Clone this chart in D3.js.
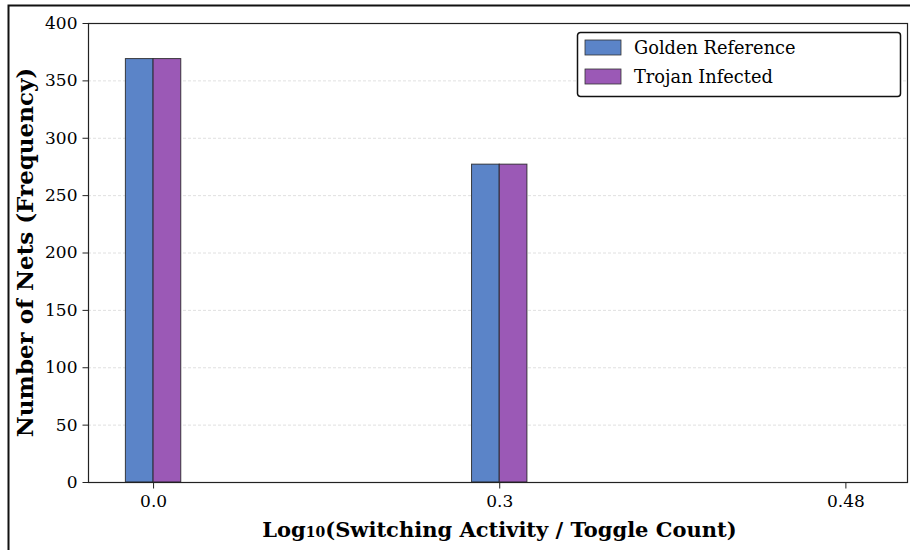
<!DOCTYPE html>
<html>
<head>
<meta charset="utf-8">
<script src="https://cdn.jsdelivr.net/npm/d3@7"></script>
<style>
  html, body { margin: 0; padding: 0; background: #fff; }
  svg { display: block; }
  text { font-family: "DejaVu Serif", serif; fill: #000; }
</style>
</head>
<body>
<svg id="chart" width="910" height="550"></svg>
<script>
// Histogram bins of log10 switching activity
const categories = ["0.0", "0.3", "0.48"];
const goldenCounts = [369, 277, 0];
const trojanCounts = [369, 277, 0];
const seriesNames = ["Golden Reference", "Trojan Infected"];
const seriesColors = ["#5b84c8", "#9b59b6"];
const yTicks = [0, 50, 100, 150, 200, 250, 300, 350, 400];

const svg = d3.select("#chart");
const W = 910, H = 550;
const plot = { left: 88, top: 23, right: 907, bottom: 482 };

// outer frame
svg.append("rect")
  .attr("x", 8.5).attr("y", 5.5)
  .attr("width", W + 10).attr("height", H + 10)
  .attr("fill", "none").attr("stroke", "#111").attr("stroke-width", 2);

const x = d3.scaleLinear().domain([-0.188, 2.178]).range([plot.left, plot.right]);
const y = d3.scaleLinear().domain([0, 400]).range([plot.bottom, plot.top]);
const barW = x(0.08) - x(0);

// grid lines
svg.append("g")
  .selectAll("line")
  .data(yTicks.filter(d => d > 0 && d < 400))
  .join("line")
  .attr("x1", plot.left).attr("x2", plot.right)
  .attr("y1", d => y(d) + 0.5).attr("y2", d => y(d) + 0.5)
  .attr("stroke", "#d8d8d8").attr("stroke-width", 0.8)
  .attr("stroke-dasharray", "3,2");

// bars
const series = [goldenCounts, trojanCounts];
series.forEach((vals, s) => {
  svg.append("g")
    .selectAll("rect")
    .data(vals.map((v, i) => ({ v, i })).filter(d => d.v > 0))
    .join("rect")
    .attr("x", d => x(d.i) + (s === 0 ? -barW : 0))
    .attr("y", d => y(d.v))
    .attr("width", barW)
    .attr("height", d => y(0) - y(d.v))
    .attr("fill", seriesColors[s])
    .attr("stroke", "#222").attr("stroke-width", 1)
    .attr("stroke-opacity", 0.85);
});

// spines
svg.append("rect")
  .attr("x", plot.left + 0.5).attr("y", plot.top + 0.5)
  .attr("width", plot.right - plot.left).attr("height", plot.bottom - plot.top)
  .attr("fill", "none").attr("stroke", "#222").attr("stroke-width", 1.2);

// y axis
const yAxis = d3.axisLeft(y).tickValues(yTicks).tickSize(6).tickPadding(5);
const gy = svg.append("g").attr("transform", `translate(${plot.left + 0.5},0)`).call(yAxis);
gy.select(".domain").remove();
gy.selectAll("text").attr("font-size", 17).attr("font-family", "DejaVu Serif");
gy.selectAll("line").attr("stroke", "#222");

// x axis
const xAxis = d3.axisBottom(x).tickValues([0, 1, 2]).tickFormat(i => categories[i]).tickSize(6).tickPadding(6);
const gx = svg.append("g").attr("transform", `translate(0,${plot.bottom + 0.5})`).call(xAxis);
gx.select(".domain").remove();
gx.selectAll("text").attr("font-size", 17).attr("font-family", "DejaVu Serif");
gx.selectAll("line").attr("stroke", "#222");

// axis titles
const xt = svg.append("text")
  .attr("x", (plot.left + plot.right) / 2 + 2).attr("y", 537)
  .attr("text-anchor", "middle").attr("font-size", 21).attr("font-weight", "bold");
xt.append("tspan").text("Log");
xt.append("tspan").attr("font-size", 14).text("10");
xt.append("tspan").text("(Switching Activity / Toggle Count)");

svg.append("text")
  .attr("transform", `translate(33,${(plot.top + plot.bottom) / 2}) rotate(-90)`)
  .attr("text-anchor", "middle").attr("font-size", 23).attr("font-weight", "bold")
  .text("Number of Nets (Frequency)");

// legend
const lg = svg.append("g").attr("transform", "translate(577,32)");
lg.append("rect").attr("x", 0.5).attr("y", 0.5).attr("width", 323).attr("height", 64)
  .attr("rx", 3).attr("fill", "#fff").attr("stroke", "#111").attr("stroke-width", 1.5);
seriesNames.forEach((name, i) => {
  lg.append("rect").attr("x", 8).attr("y", 8 + i * 29).attr("width", 36).attr("height", 15)
    .attr("fill", seriesColors[i]).attr("stroke", "#333").attr("stroke-width", 0.8);
  lg.append("text").attr("x", 57).attr("y", 22 + i * 29).attr("font-size", 17.8).text(name);
});
</script>
</body>
</html>
